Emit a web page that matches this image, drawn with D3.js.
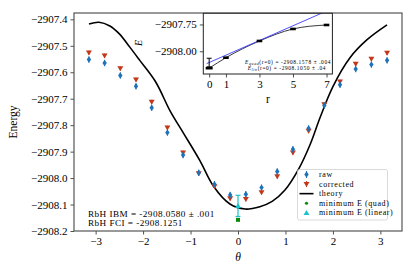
<!doctype html>
<html>
  <head>
    <meta charset="utf-8">
    <style>
      * { margin: 0; padding: 0; }
      body { background: #fff; width: 415px; height: 277px; overflow: hidden; }
      svg text { font-family: "Liberation Serif", "DejaVu Serif", serif; fill: #000; }
    </style>
  </head>
  <body>
    <div id="main"></div>
  </body>
<script src="https://d3js.org/d3.v7.min.js"></script>
<script>
    // main plot data
    var theta = [-3.1416, -2.8109, -2.4802, -2.1495, -1.8188, -1.4881, -1.1574, -0.8267, -0.4960, -0.1653,
                 0.1653, 0.4960, 0.8267, 1.1574, 1.4881, 1.8188, 2.1495, 2.4802, 2.8109, 3.1416]
    var raw = [-2907.552, -2907.565, -2907.612, -2907.653, -2907.734, -2907.828, -2907.913, -2907.980, -2908.023, -2908.064,
               -2908.061, -2908.036, -2907.975, -2907.891, -2907.812, -2907.726, -2907.647, -2907.588, -2907.571, -2907.555]
    var corrected = [-2907.526, -2907.537, -2907.586, -2907.628, -2907.712, -2907.810, -2907.904, -2907.982, -2908.032, -2908.077,
                     -2908.080, -2908.054, -2907.994, -2907.904, -2907.822, -2907.722, -2907.636, -2907.569, -2907.550, -2907.527]
    var rawErr = 0.012, corrErr = 0.008
    var theoryTheta = [-3.14, -2.93, -2.7, -2.5, -2.28, -2.07, -1.74, -1.42, -1.15, -0.8, -0.52, -0.17, 0.15, 0.46, 0.72,
                       0.99, 1.28, 1.52, 1.73, 2.0, 2.36, 2.72, 3.14]
    var theoryE = [-2907.418, -2907.411, -2907.425, -2907.455, -2907.505, -2907.555, -2907.635, -2907.750, -2907.830, -2907.935,
                   -2908.030, -2908.098, -2908.117, -2908.108, -2908.088, -2908.045, -2907.965, -2907.873, -2907.771, -2907.654,
                   -2907.545, -2907.477, -2907.421]
    var minQuad = {theta: 0, E: -2908.1578, err: 0.004}
    var minLin = {theta: 0, E: -2908.1050, err: 0.04}
    var xTicks = [-3, -2, -1, 0, 1, 2, 3]
    var yTicks = [-2907.4, -2907.5, -2907.6, -2907.7, -2907.8, -2907.9, -2908.0, -2908.1, -2908.2]

    // inset data
    var rVals = [0, 1, 3, 5, 7]
    var rE = [-2908.1578, -2908.060, -2907.904, -2907.792, -2907.755]
    var linFitR = [-0.15, 7.35]
    var linFitE = [-2908.115, -2907.601]
    var insetXTicks = [0, 1, 3, 5, 7]
    var insetYTicks = [-2907.75, -2908.00]

    var colRaw = '#1f72b8', colCorr = '#c4381a', colQuad = '#0a8a0a', colLin = '#1cc3c8'

    var W = 415, H = 277
    var svg = d3.select('#main').append('svg').attr('width', W).attr('height', H)

    var x = d3.scaleLinear().domain([-3.456, 3.456]).range([74, 402])
    var y = d3.scaleLinear().domain([-2908.2, -2907.376]).range([231, 13])

    var fmtMinus = function(s){ return s.replace('-', '\u2212') }

    // axes
    svg.append('g').attr('transform', 'translate(0,231)')
      .call(d3.axisBottom(x).tickValues(xTicks).tickSize(3.5).tickPadding(3).tickFormat(function(d){ return fmtMinus(d3.format('d')(d)) }))
    svg.append('g').attr('transform', 'translate(74,0)')
      .call(d3.axisLeft(y).tickValues(yTicks).tickSize(3.5).tickPadding(3).tickFormat(function(d){ return fmtMinus(d3.format('.1f')(d)) }))
    svg.selectAll('.domain').remove()
    svg.selectAll('.tick line').attr('stroke', '#222').attr('stroke-width', 0.8)
    svg.selectAll('.tick text').attr('font-size', 11).attr('font-family', '"Liberation Serif", serif')

    svg.append('rect').attr('x', 74).attr('y', 13).attr('width', 328).attr('height', 218)
      .attr('fill', 'none').attr('stroke', '#555').attr('stroke-width', 1.2)

    svg.append('text').attr('transform', 'translate(17,122) rotate(-90)').attr('text-anchor', 'middle')
      .attr('font-size', 11.5).text('Energy')
    svg.append('text').attr('x', 238).attr('y', 261).attr('text-anchor', 'middle')
      .attr('font-size', 11.5).attr('font-style', 'italic').text('\u03b8')

    var plot = svg.append('g')

    // theory curve
    var theory = theoryTheta.map(function(t, i){ return [t, theoryE[i]] })
    var line = d3.line().x(function(d){ return x(d[0]) }).y(function(d){ return y(d[1]) }).curve(d3.curveCatmullRom.alpha(0.5))
    plot.append('path').datum(theory).attr('d', line).attr('fill', 'none').attr('stroke', '#000').attr('stroke-width', 1.6)

    // corrected (red down triangles)
    var corrPts = theta.map(function(t, i){ return {t: t, e: corrected[i]} })
    plot.selectAll('.corrErr').data(corrPts).enter().append('line')
      .attr('x1', function(d){ return x(d.t) }).attr('x2', function(d){ return x(d.t) })
      .attr('y1', function(d){ return y(d.e - corrErr) }).attr('y2', function(d){ return y(d.e + corrErr) })
      .attr('stroke', colCorr).attr('stroke-width', 1)
    plot.selectAll('.corr').data(corrPts).enter().append('path')
      .attr('transform', function(d){ return 'translate(' + x(d.t) + ',' + y(d.e) + ')' })
      .attr('d', 'M-3,-2.2L3,-2.2L0,2.8Z').attr('fill', colCorr)

    // raw (blue thin diamonds)
    var rawPts = theta.map(function(t, i){ return {t: t, e: raw[i]} })
    plot.selectAll('.rawErr').data(rawPts).enter().append('line')
      .attr('x1', function(d){ return x(d.t) }).attr('x2', function(d){ return x(d.t) })
      .attr('y1', function(d){ return y(d.e - rawErr) }).attr('y2', function(d){ return y(d.e + rawErr) })
      .attr('stroke', colRaw).attr('stroke-width', 1)
    plot.selectAll('.raw').data(rawPts).enter().append('path')
      .attr('transform', function(d){ return 'translate(' + x(d.t) + ',' + y(d.e) + ')' })
      .attr('d', 'M0,-3.2L2.2,0L0,3.2L-2.2,0Z').attr('fill', colRaw)

    // minimum E (linear) with error bar
    var lx = x(minLin.theta)
    plot.append('line').attr('x1', lx).attr('x2', lx).attr('y1', y(minLin.E - minLin.err)).attr('y2', y(minLin.E + minLin.err))
      .attr('stroke', colLin).attr('stroke-width', 1.2)
    ;[minLin.E - minLin.err, minLin.E + minLin.err].forEach(function(v){
      plot.append('line').attr('x1', lx - 2.5).attr('x2', lx + 2.5).attr('y1', y(v)).attr('y2', y(v))
        .attr('stroke', colLin).attr('stroke-width', 1.2)
    })
    plot.append('path').attr('transform', 'translate(' + lx + ',' + y(minLin.E) + ')')
      .attr('d', 'M-3,2.2L3,2.2L0,-2.8Z').attr('fill', colLin)

    // minimum E (quad)
    plot.append('rect').attr('x', x(minQuad.theta) - 2).attr('y', y(minQuad.E) - 2).attr('width', 4).attr('height', 4)
      .attr('fill', colQuad)

    // text annotations
    svg.append('text').attr('x', 88).attr('y', 216.5).attr('font-size', 9.2).attr('letter-spacing', 0.45).text('RbH IBM = -2908.0580 \u00b1 .001')
    svg.append('text').attr('x', 88).attr('y', 225.8).attr('font-size', 9.2).attr('letter-spacing', 0.45).text('RbH FCI = -2908.1251')

    // legend
    var leg = svg.append('g')
    leg.append('rect').attr('x', 297.5).attr('y', 169.5).attr('width', 90).attr('height', 50.5).attr('rx', 2)
      .attr('fill', '#fff').attr('fill-opacity', 0.8).attr('stroke', '#d0d0d0').attr('stroke-width', 0.8)
    var legRows = ['raw', 'corrected', 'theory', 'minimum E (quad)', 'minimum E (linear)']
    var legY = d3.scalePoint().domain(legRows).range([174.5, 212.8])
    leg.selectAll('.lt').data(legRows).enter().append('text')
      .attr('x', 319).attr('y', function(d){ return legY(d) + 2.5 }).attr('font-size', 8).attr('letter-spacing', 0.6)
      .text(function(d){ return d })
    var mx = 306.5
    leg.append('line').attr('x1', mx).attr('x2', mx).attr('y1', legY('raw') - 3.5).attr('y2', legY('raw') + 3.5).attr('stroke', colRaw)
    leg.append('path').attr('transform', 'translate(' + mx + ',' + legY('raw') + ')').attr('d', 'M0,-3.2L2.2,0L0,3.2L-2.2,0Z').attr('fill', colRaw)
    leg.append('line').attr('x1', mx).attr('x2', mx).attr('y1', legY('corrected') - 3).attr('y2', legY('corrected') + 3).attr('stroke', colCorr)
    leg.append('path').attr('transform', 'translate(' + mx + ',' + legY('corrected') + ')').attr('d', 'M-3,-2.2L3,-2.2L0,2.8Z').attr('fill', colCorr)
    leg.append('line').attr('x1', 299.5).attr('x2', 313.5).attr('y1', legY('theory')).attr('y2', legY('theory')).attr('stroke', '#000').attr('stroke-width', 1.6)
    leg.append('circle').attr('cx', mx).attr('cy', legY('minimum E (quad)')).attr('r', 1.6).attr('fill', colQuad)
    leg.append('path').attr('transform', 'translate(' + mx + ',' + legY('minimum E (linear)') + ')').attr('d', 'M-3,2.2L3,2.2L0,-2.8Z').attr('fill', colLin)

    // inset
    var xi = d3.scaleLinear().domain([-0.35, 7.35]).range([203.3, 332.4])
    var yi = d3.scaleLinear().domain([-2908.212, -2907.646]).range([74, 13.3])
    var inset = svg.append('g')
    inset.append('rect').attr('x', 203.3).attr('y', 13.3).attr('width', 129.1).attr('height', 60.7).attr('fill', '#fff')
    var clip = svg.append('clipPath').attr('id', 'insetClip')
    clip.append('rect').attr('x', 203.3).attr('y', 13.3).attr('width', 129.1).attr('height', 60.7)

    inset.append('g').attr('transform', 'translate(0,74)')
      .call(d3.axisBottom(xi).tickValues(insetXTicks).tickSize(3.5).tickPadding(3).tickFormat(d3.format('d')))
    inset.append('g').attr('transform', 'translate(203.3,0)')
      .call(d3.axisLeft(yi).tickValues(insetYTicks).tickSize(3.5).tickPadding(3).tickFormat(function(d){ return fmtMinus(d3.format('.2f')(d)) }))
    inset.selectAll('.domain').remove()
    inset.selectAll('.tick line').attr('stroke', '#222').attr('stroke-width', 0.8)
    inset.selectAll('.tick text').attr('font-size', 11).attr('font-family', '"Liberation Serif", serif')

    var ig = inset.append('g').attr('clip-path', 'url(#insetClip)')
    var rPts = rVals.map(function(r, i){ return [r, rE[i]] })
    var iline = d3.line().x(function(d){ return xi(d[0]) }).y(function(d){ return yi(d[1]) })
    ig.append('path').datum(rPts).attr('d', iline.curve(d3.curveMonotoneX)).attr('fill', 'none').attr('stroke', '#222').attr('stroke-width', 0.9)
    ig.append('path').datum(linFitR.map(function(r, i){ return [r, linFitE[i]] }))
      .attr('d', d3.line().x(function(d){ return xi(d[0]) }).y(function(d){ return yi(d[1]) }))
      .attr('fill', 'none').attr('stroke', '#3a3aff').attr('stroke-width', 0.9)
    // linear extrapolation error bar at r=0
    var ex = xi(0)
    ig.append('line').attr('x1', ex).attr('x2', ex).attr('y1', yi(minLin.E - minLin.err)).attr('y2', yi(minLin.E + minLin.err))
      .attr('stroke', '#000').attr('stroke-width', 1)
    ;[minLin.E - minLin.err, minLin.E + minLin.err].forEach(function(v){
      ig.append('line').attr('x1', ex - 2.5).attr('x2', ex + 2.5).attr('y1', yi(v)).attr('y2', yi(v)).attr('stroke', '#000').attr('stroke-width', 1)
    })
    ig.selectAll('.im').data(rPts).enter().append('rect')
      .attr('x', function(d, i){ return xi(d[0]) - (i == 0 ? 3.5 : 2.8) })
      .attr('y', function(d){ return yi(d[1]) - 1.3 })
      .attr('width', function(d, i){ return i == 0 ? 7 : 5.6 }).attr('height', 2.6).attr('fill', '#000')

    inset.append('rect').attr('x', 203.3).attr('y', 13.3).attr('width', 129.1).attr('height', 60.7)
      .attr('fill', 'none').attr('stroke', '#222').attr('stroke-width', 1)

    var t1 = inset.append('text').attr('x', 331).attr('y', 63.8).attr('text-anchor', 'end').attr('font-size', 5.4).attr('letter-spacing', 0.6)
    t1.append('tspan').attr('font-style', 'italic').text('E')
    t1.append('tspan').attr('font-style', 'italic').attr('font-size', 4).attr('dy', 1).text('quad')
    t1.append('tspan').attr('dy', -1).text('(r=0) = -2908.1578 \u00b1 .004')
    var t2 = inset.append('text').attr('x', 326).attr('y', 70.2).attr('text-anchor', 'end').attr('font-size', 5.4).attr('letter-spacing', 0.6)
    t2.append('tspan').attr('font-style', 'italic').text('E')
    t2.append('tspan').attr('font-style', 'italic').attr('font-size', 4).attr('dy', 1).text('lin')
    t2.append('tspan').attr('dy', -1).text('(r=0) = -2908.1050 \u00b1 .04')

    svg.append('text').attr('x', 268).attr('y', 103).attr('text-anchor', 'middle').attr('font-size', 11.5).text('r')
    svg.append('text').attr('transform', 'translate(142,43) rotate(-90)').attr('text-anchor', 'middle')
      .attr('font-size', 10).attr('font-style', 'italic').text('E')
</script>
</html>
